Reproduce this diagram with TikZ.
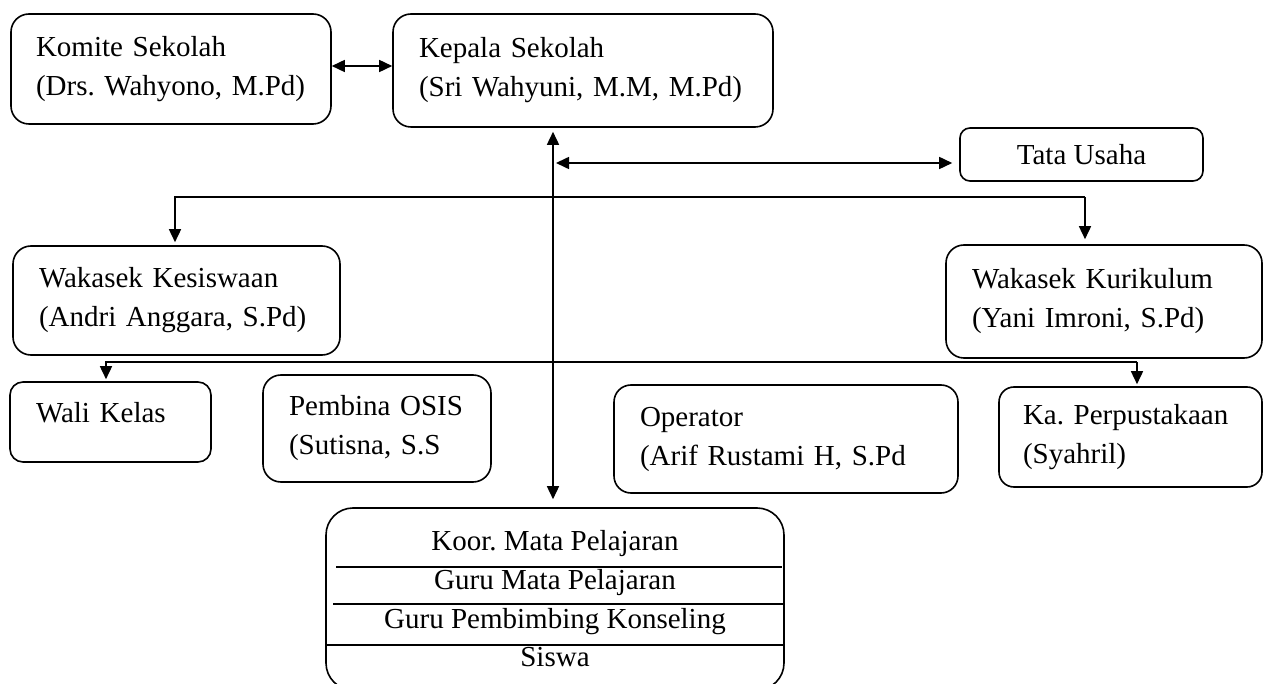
\documentclass[tikz,border=0pt]{standalone}
\usepackage{fontspec}
\setmainfont{Liberation Serif}
\usetikzlibrary{arrows.meta}
\frenchspacing
\newcommand{\orgfont}{\frenchspacing\fontsize{29pt}{39pt}\selectfont}
\newcommand{\koorfont}{\frenchspacing\fontsize{29pt}{38.7pt}\selectfont}
\tikzset{
  box/.style={draw, line width=1.6pt, rounded corners=18pt, inner xsep=26pt,
    inner ysep=0pt, align=left, font=\orgfont, anchor=center},
  conn/.style={line width=1.6pt, line join=miter},
  arr/.style={conn, -{Triangle[length=13pt,width=12pt]}},
  dbl/.style={conn, {Triangle[length=13pt,width=12pt]}-{Triangle[length=13pt,width=12pt]}},
  sepline/.style={line width=1.6pt},
}
\begin{document}
\begin{tikzpicture}[x=1pt,y=-1pt]
\useasboundingbox (0,0) rectangle (1264,684);
\fill[white] (0,0) rectangle (1264,684);

% boxes
\node[box, inner xsep=25pt, minimum width=320pt, minimum height=110pt, text width=270pt]
  (komite) at (171,69) {\mbox{Komite Sekolah}\\\mbox{(Drs. Wahyono, M.Pd)}};
\node[box, minimum width=380pt, minimum height=113pt, text width=328pt]
  (kepala) at (583,70.5) {\mbox{Kepala Sekolah}\\\mbox{(Sri Wahyuni, M.M, M.Pd)}};
\node[box, rounded corners=10pt, align=center, inner xsep=0pt, minimum width=243pt, minimum height=53pt]
  (tata) at (1081.5,154.5) {Tata Usaha};
\node[box, minimum width=327pt, minimum height=109pt, text width=275pt]
  (kesiswaan) at (176.5,300.5) {\mbox{Wakasek Kesiswaan}\\\mbox{(Andri Anggara, S.Pd)}};
\node[box, minimum width=316pt, minimum height=113pt, text width=264pt]
  (kurikulum) at (1104,301.5) {\mbox{Wakasek Kurikulum}\\\mbox{(Yani Imroni, S.Pd)}};
\node[box, rounded corners=13pt, minimum width=201pt, minimum height=80pt, text width=149pt, text depth=20pt]
  (wali) at (110.5,422) {\mbox{Wali Kelas}};
\node[box, minimum width=228pt, minimum height=107pt, text width=176pt]
  (pembina) at (377,428.5) {\mbox{Pembina OSIS}\\\mbox{(Sutisna, S.S}};
\node[box, rounded corners=17pt, minimum width=344pt, minimum height=108pt, text width=292pt]
  (operator) at (786,439) {\mbox{Operator}\\\mbox{(Arif Rustami H, S.Pd}};
\node[box, rounded corners=15pt, inner xsep=24pt, minimum width=263pt, minimum height=100pt, text width=215pt]
  (kaperp) at (1130.5,437) {\mbox{Ka. Perpustakaan}\\\mbox{(Syahril)}};
\node[box, rounded corners=27pt, align=center, inner xsep=0pt, font=\koorfont, minimum width=458pt, minimum height=182pt]
  (koor) at (555,599) {Koor. Mata Pelajaran\\Guru Mata Pelajaran\\Guru Pembimbing Konseling\\Siswa};

% separators inside the bottom box
\draw[sepline] (336,567) -- (782,567);
\draw[sepline] (333,604) -- (784,604);
\draw[sepline] (326,645) -- (784,645);

% connectors
\draw[dbl] ([yshift=3pt]komite.east) -- ([yshift=4.5pt]kepala.west);

\coordinate (vx) at (553,0);
\draw[dbl, shorten <=4pt, shorten >=8pt] (kepala.south -| vx) -- (koor.north -| vx);

\coordinate (tuL) at (556,163);
\draw[dbl, shorten >=7pt] (tuL) -- (tuL -| tata.west);

\coordinate (b1L) at (175,197);
\coordinate (b1R) at (1085,197);
\draw[arr, shorten >=3pt] (b1R) -- (b1L) -- (b1L |- kesiswaan.north);
\draw[arr, shorten >=5pt] (b1R) -- (b1R |- kurikulum.north);

\coordinate (b2L) at (106,362);
\coordinate (b2R) at (1137,362);
\draw[arr, shorten >=2pt] (b2R) -- (b2L) -- (b2L |- wali.north);
\draw[arr, shorten >=2pt] (b2R) -- (b2R |- kaperp.north);
\end{tikzpicture}
\end{document}
